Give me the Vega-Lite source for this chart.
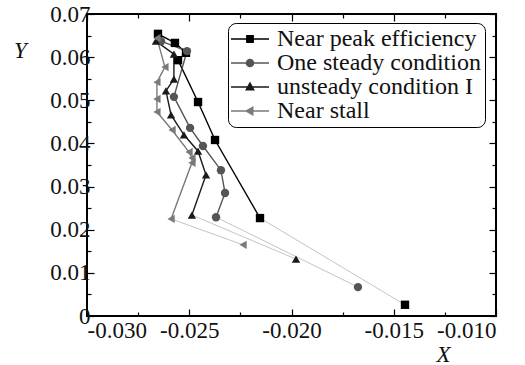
{
  "$schema": "https://vega.github.io/schema/vega-lite/v6.json",
  "autosize": "none",
  "width": 409,
  "height": 302,
  "padding": {"left": 87, "top": 14, "right": 29, "bottom": 49},
  "background": "white",
  "config": {
    "view": {"stroke": "#000", "strokeWidth": 2},
    "axis": {"domain": false, "grid": false, "labelFont": "Liberation Serif, Times New Roman, serif", "labelFontSize": 23, "labelColor": "#111", "tickColor": "#000", "tickWidth": 1.2, "titleFont": "Liberation Serif, Times New Roman, serif", "titleFontStyle": "italic", "titleFontWeight": "normal", "titleFontSize": 23, "titleColor": "#111"},
    "legend": {"symbolStrokeWidth": 1.4}
  },
  "datasets": {
    "pts": [
      {"s": "Near peak efficiency", "i": 1, "x": -0.02653, "y": 0.0654, "main": 1, "tail": 0},
      {"s": "Near peak efficiency", "i": 2, "x": -0.02570, "y": 0.0633, "main": 1, "tail": 0},
      {"s": "Near peak efficiency", "i": 3, "x": -0.02516, "y": 0.0610, "main": 1, "tail": 0},
      {"s": "Near peak efficiency", "i": 4, "x": -0.02555, "y": 0.0593, "main": 1, "tail": 0},
      {"s": "Near peak efficiency", "i": 5, "x": -0.02457, "y": 0.0496, "main": 1, "tail": 0},
      {"s": "Near peak efficiency", "i": 6, "x": -0.02374, "y": 0.0408, "main": 1, "tail": 0},
      {"s": "Near peak efficiency", "i": 7, "x": -0.02154, "y": 0.0227, "main": 1, "tail": 1},
      {"s": "Near peak efficiency", "i": 8, "x": -0.01445, "y": 0.0026, "main": 0, "tail": 1},
      {"s": "One steady condition", "i": 1, "x": -0.02638, "y": 0.0637, "main": 1, "tail": 0},
      {"s": "One steady condition", "i": 2, "x": -0.02511, "y": 0.0614, "main": 1, "tail": 0},
      {"s": "One steady condition", "i": 3, "x": -0.02575, "y": 0.0508, "main": 1, "tail": 0},
      {"s": "One steady condition", "i": 4, "x": -0.02496, "y": 0.0436, "main": 1, "tail": 0},
      {"s": "One steady condition", "i": 5, "x": -0.02433, "y": 0.0394, "main": 1, "tail": 0},
      {"s": "One steady condition", "i": 6, "x": -0.02345, "y": 0.0338, "main": 1, "tail": 0},
      {"s": "One steady condition", "i": 7, "x": -0.02325, "y": 0.0285, "main": 1, "tail": 0},
      {"s": "One steady condition", "i": 8, "x": -0.02369, "y": 0.0229, "main": 1, "tail": 1},
      {"s": "One steady condition", "i": 9, "x": -0.01675, "y": 0.0067, "main": 0, "tail": 1},
      {"s": "unsteady condition I", "i": 1, "x": -0.02663, "y": 0.0637, "main": 1, "tail": 0},
      {"s": "unsteady condition I", "i": 2, "x": -0.02575, "y": 0.0607, "main": 1, "tail": 0},
      {"s": "unsteady condition I", "i": 3, "x": -0.02575, "y": 0.0549, "main": 1, "tail": 0},
      {"s": "unsteady condition I", "i": 4, "x": -0.02614, "y": 0.0522, "main": 1, "tail": 0},
      {"s": "unsteady condition I", "i": 5, "x": -0.02589, "y": 0.0466, "main": 1, "tail": 0},
      {"s": "unsteady condition I", "i": 6, "x": -0.02526, "y": 0.0420, "main": 1, "tail": 0},
      {"s": "unsteady condition I", "i": 7, "x": -0.02457, "y": 0.0382, "main": 1, "tail": 0},
      {"s": "unsteady condition I", "i": 8, "x": -0.02418, "y": 0.0327, "main": 1, "tail": 0},
      {"s": "unsteady condition I", "i": 9, "x": -0.02487, "y": 0.0234, "main": 1, "tail": 1},
      {"s": "unsteady condition I", "i": 10, "x": -0.01978, "y": 0.0132, "main": 0, "tail": 1},
      {"s": "Near stall", "i": 1, "x": -0.02658, "y": 0.0644, "main": 1, "tail": 0},
      {"s": "Near stall", "i": 2, "x": -0.02619, "y": 0.0577, "main": 1, "tail": 0},
      {"s": "Near stall", "i": 3, "x": -0.02658, "y": 0.0542, "main": 1, "tail": 0},
      {"s": "Near stall", "i": 4, "x": -0.02658, "y": 0.0503, "main": 1, "tail": 0},
      {"s": "Near stall", "i": 5, "x": -0.02658, "y": 0.0473, "main": 1, "tail": 0},
      {"s": "Near stall", "i": 6, "x": -0.02584, "y": 0.0431, "main": 1, "tail": 0},
      {"s": "Near stall", "i": 7, "x": -0.02501, "y": 0.0380, "main": 1, "tail": 0},
      {"s": "Near stall", "i": 8, "x": -0.02487, "y": 0.0366, "main": 1, "tail": 0},
      {"s": "Near stall", "i": 9, "x": -0.02487, "y": 0.0355, "main": 1, "tail": 0},
      {"s": "Near stall", "i": 10, "x": -0.02589, "y": 0.0225, "main": 1, "tail": 1},
      {"s": "Near stall", "i": 11, "x": -0.02237, "y": 0.0165, "main": 0, "tail": 1}
    ]
  },
  "data": {"name": "pts"},
  "resolve": {"scale": {"shape": "independent", "fill": "independent", "stroke": "independent"}, "axis": {"x": "independent", "y": "independent"}},
  "layer": [
    {
      "transform": [{"filter": "datum.tail == 1"}],
      "mark": {"type": "line", "strokeWidth": 1, "color": "#c4c4c4"},
      "encoding": {
        "x": {"field": "x", "type": "quantitative", "scale": {"domain": [-0.03, -0.01], "zero": false, "nice": false},
          "axis": {"orient": "bottom", "values": [-0.03, -0.025, -0.02, -0.015, -0.01], "tickSize": -7, "labelPadding": 10, "labelExpr": "replace(format(datum.value, '.3f'), '−', '-')", "title": "X", "titleAngle": 0, "titleX": 356, "titleY": 38, "titleAlign": "center", "titleBaseline": "middle"}},
        "y": {"field": "y", "type": "quantitative", "scale": {"domain": [0, 0.07], "zero": false, "nice": false},
          "axis": {"orient": "left", "values": [0, 0.01, 0.02, 0.03, 0.04, 0.05, 0.06, 0.07], "tickSize": -7, "labelPadding": 4, "labelExpr": "datum.value == 0 ? '0' : format(datum.value, '.2f')", "title": "Y", "titleAngle": 0, "titleX": -67, "titleY": 36, "titleAlign": "center", "titleBaseline": "middle"}},
        "detail": {"field": "s"},
        "order": {"field": "i"}
      }
    },
    {
      "transform": [{"filter": "datum.main == 1"}],
      "mark": {"type": "line", "strokeWidth": 1.4},
      "encoding": {
        "x": {"field": "x", "type": "quantitative", "axis": {"orient": "bottom", "values": [-0.0275, -0.0225, -0.0175, -0.0125], "tickSize": -4, "labels": false, "title": null}},
        "y": {"field": "y", "type": "quantitative", "axis": {"orient": "left", "values": [0.005, 0.015, 0.025, 0.035, 0.045, 0.055, 0.065], "tickSize": -4, "labels": false, "title": null}},
        "color": {"field": "s", "type": "nominal", "legend": null, "scale": {"domain": ["Near peak efficiency", "One steady condition", "unsteady condition I", "Near stall"], "range": ["#000000", "#555555", "#1a1a1a", "#7a7a7a"]}},
        "order": {"field": "i"}
      }
    },
    {
      "mark": {"type": "point", "filled": true, "opacity": 1},
      "encoding": {
        "x": {"field": "x", "type": "quantitative", "axis": {"orient": "top", "values": [-0.03, -0.025, -0.02, -0.015, -0.01], "tickSize": -7, "labels": false, "title": null}},
        "y": {"field": "y", "type": "quantitative", "axis": {"orient": "right", "values": [0, 0.01, 0.02, 0.03, 0.04, 0.05, 0.06, 0.07], "tickSize": -7, "labels": false, "title": null}},
        "color": {"field": "s", "type": "nominal", "legend": null},
        "shape": {"field": "s", "type": "nominal", "legend": null, "scale": {"domain": ["Near peak efficiency", "One steady condition", "unsteady condition I", "Near stall"], "range": ["square", "circle", "triangle-up", "triangle-left"]}},
        "size": {"value": 70}
      }
    },
    {
      "transform": [{"filter": "false"}],
      "mark": {"type": "point", "filled": true, "opacity": 1, "strokeWidth": 1.4},
      "encoding": {
        "x": {"field": "x", "type": "quantitative", "axis": {"orient": "top", "values": [-0.0275, -0.0225, -0.0175, -0.0125], "tickSize": -4, "labels": false, "title": null}},
        "y": {"field": "y", "type": "quantitative", "axis": {"orient": "right", "values": [0.005, 0.015, 0.025, 0.035, 0.045, 0.055, 0.065], "tickSize": -4, "labels": false, "title": null}},
        "fill": {"field": "s", "type": "nominal", "scale": {"domain": ["Near peak efficiency", "One steady condition", "unsteady condition I", "Near stall"], "range": ["#000000", "#555555", "#1a1a1a", "#7a7a7a"]},
          "legend": {"title": null, "orient": "none", "legendX": 141, "legendY": 9, "strokeColor": "#000", "cornerRadius": 8, "padding": 4, "fillColor": "white", "symbolSize": 256, "symbolStrokeWidth": 1.4, "labelFont": "Liberation Serif, Times New Roman, serif", "labelFontSize": 24, "labelColor": "#111", "labelOffset": 21, "rowPadding": -1.5, "labelLimit": 400}},
        "stroke": {"field": "s", "type": "nominal", "scale": {"domain": ["Near peak efficiency", "One steady condition", "unsteady condition I", "Near stall"], "range": ["#000000", "#555555", "#1a1a1a", "#7a7a7a"]},
          "legend": {"title": null, "orient": "none", "legendX": 141, "legendY": 9, "strokeColor": "#000", "cornerRadius": 8, "padding": 4, "fillColor": "white", "symbolSize": 256, "symbolStrokeWidth": 1.4, "labelFont": "Liberation Serif, Times New Roman, serif", "labelFontSize": 24, "labelColor": "#111", "labelOffset": 21, "rowPadding": -1.5, "labelLimit": 400}},
        "shape": {"field": "s", "type": "nominal", "scale": {"domain": ["Near peak efficiency", "One steady condition", "unsteady condition I", "Near stall"], "range": ["M-1.625,0H3.125M0.35,-0.4H1.15V0.4H0.35Z", "M-1.625,0H3.125M1.2,0A0.45,0.45 0 1,1 0.3,0A0.45,0.45 0 1,1 1.2,0Z", "M-1.625,0H3.125M0.75,-0.5L1.22,0.35L0.28,0.35Z", "M-1.625,0H3.125M0.25,0L1.1,-0.48L1.1,0.48Z"]},
          "legend": {"title": null, "orient": "none", "legendX": 141, "legendY": 9, "strokeColor": "#000", "cornerRadius": 8, "padding": 4, "fillColor": "white", "symbolSize": 256, "symbolStrokeWidth": 1.4, "labelFont": "Liberation Serif, Times New Roman, serif", "labelFontSize": 24, "labelColor": "#111", "labelOffset": 21, "rowPadding": -1.5, "labelLimit": 400}}
      }
    }
  ]
}
